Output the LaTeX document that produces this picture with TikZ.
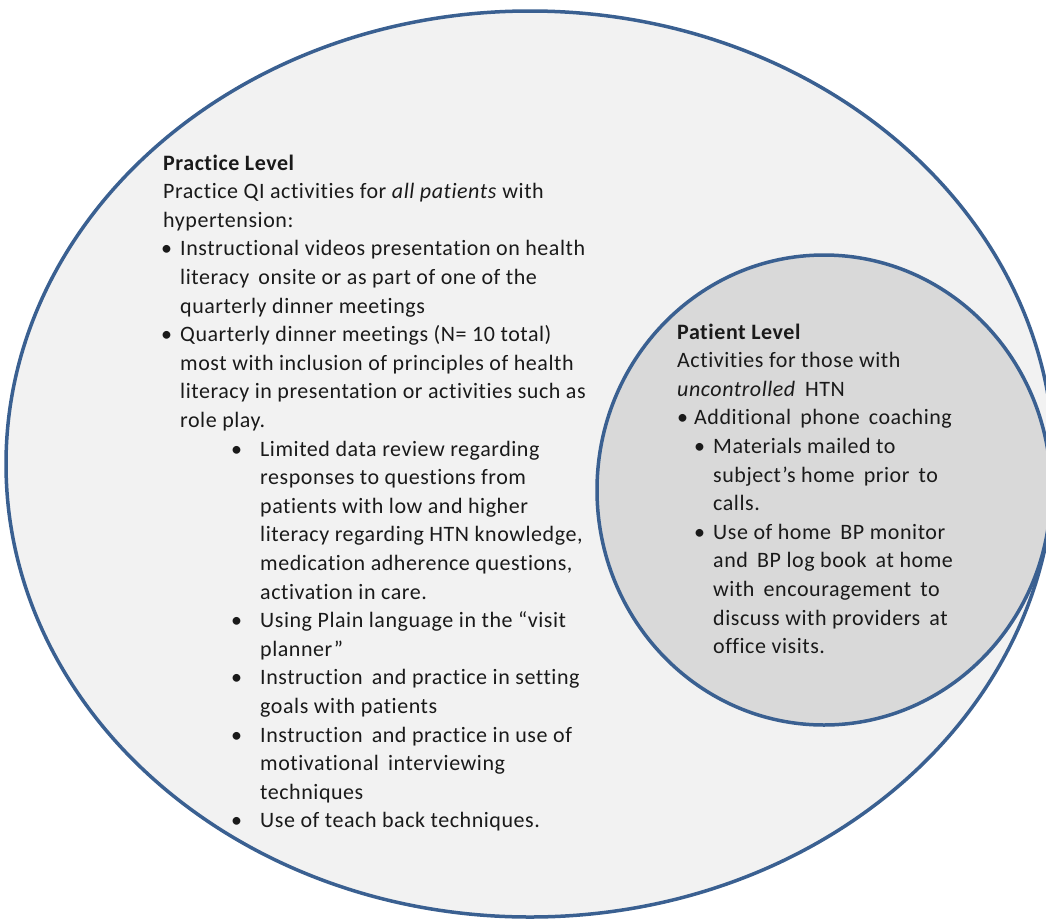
\documentclass[tikz,border=0pt]{standalone}
\usepackage{fontspec}
\setmainfont{Carlito}[LetterSpace=2.5, Ligatures=NoCommon]
\definecolor{rim}{HTML}{3A6091}
\definecolor{outerfill}{HTML}{F2F2F2}
\definecolor{innerfill}{HTML}{D9D9D9}
\definecolor{ink}{HTML}{1A1A1A}
% bullet line: indent, bullet box width, text
\newcommand\bline[3]{\hspace*{#1}\makebox[#2][l]{\textbullet}#3}
% continuation line: indent, text
\newcommand\contline[2]{\hspace*{#1}#2}
\tikzset{
  ring/.style={draw=rim, line width=3.5pt},
  block/.style={anchor=base west, inner sep=0pt, text=ink,
    font=\fontsize{22}{28.6}\selectfont},
}
\begin{document}
\begin{tikzpicture}[x=1pt, y=-1pt]
  \useasboundingbox (0,0) rectangle (1046,921);
  \fill[white] (0,0) rectangle (1046,921);
  \begin{scope}
    \clip (0,0) rectangle (1046,921);
    % outer level
    \fill[outerfill] (530,464) ellipse [x radius=524, y radius=453];
    % inner level
    \fill[innerfill] (824,490) ellipse [x radius=227, y radius=235];
    \draw[ring] (824,490) ellipse [x radius=227, y radius=235];
    \draw[ring] (530,464) ellipse [x radius=524, y radius=453];
  \end{scope}

  \node[block] (practice) at (163,170) {\parbox[t]{520pt}{\raggedright
    \fontsize{22}{28.6}\selectfont
    \textbf{Practice Level}\\
    Practice QI activities for \textit{all patients} with\\
    hypertension:\\
    \bline{-2pt}{19pt}{Instructional videos presentation on health}\\
    \contline{17pt}{literacy\, onsite or as part of one of the}\\
    \contline{17pt}{quarterly dinner meetings}\\
    \bline{-2pt}{19pt}{Quarterly dinner meetings (N= 10 total)}\\
    \contline{17pt}{most with inclusion of principles of health}\\
    \contline{17pt}{literacy in presentation or activities such as}\\
    \contline{17pt}{role play.}\\
    \bline{68pt}{29pt}{Limited data review regarding}\\
    \contline{97pt}{responses to questions from}\\
    \contline{97pt}{patients with low and higher}\\
    \contline{97pt}{literacy regarding HTN knowledge,}\\
    \contline{97pt}{medication adherence questions,}\\
    \contline{97pt}{activation in care.}\\
    \bline{68pt}{29pt}{Using Plain language in the “visit}\\
    \contline{97pt}{planner”}\\
    \bline{68pt}{29pt}{Instruction\, and practice in setting}\\
    \contline{97pt}{goals with patients}\\
    \bline{68pt}{29pt}{Instruction\, and practice in use of}\\
    \contline{97pt}{motivational\, interviewing}\\
    \contline{97pt}{techniques}\\
    \bline{68pt}{29pt}{Use of teach back techniques.}}};

  \node[block] (patient) at (677,339) {\parbox[t]{340pt}{\raggedright
    \fontsize{22}{28.6}\selectfont
    \textbf{Patient Level}\\
    Activities for those with\\
    \textit{uncontrolled}\, HTN\\
    \bline{0pt}{17pt}{Additional\, phone\, coaching}\\
    \bline{17pt}{19pt}{Materials mailed to}\\
    \contline{36pt}{subject’s home\, prior\, to}\\
    \contline{36pt}{calls.}\\
    \bline{17pt}{19pt}{Use of home\, BP monitor}\\
    \contline{36pt}{and\, BP log book\, at home}\\
    \contline{36pt}{with\, encouragement\, to}\\
    \contline{36pt}{discuss with providers\, at}\\
    \contline{36pt}{office visits.}}};
\end{tikzpicture}
\end{document}
